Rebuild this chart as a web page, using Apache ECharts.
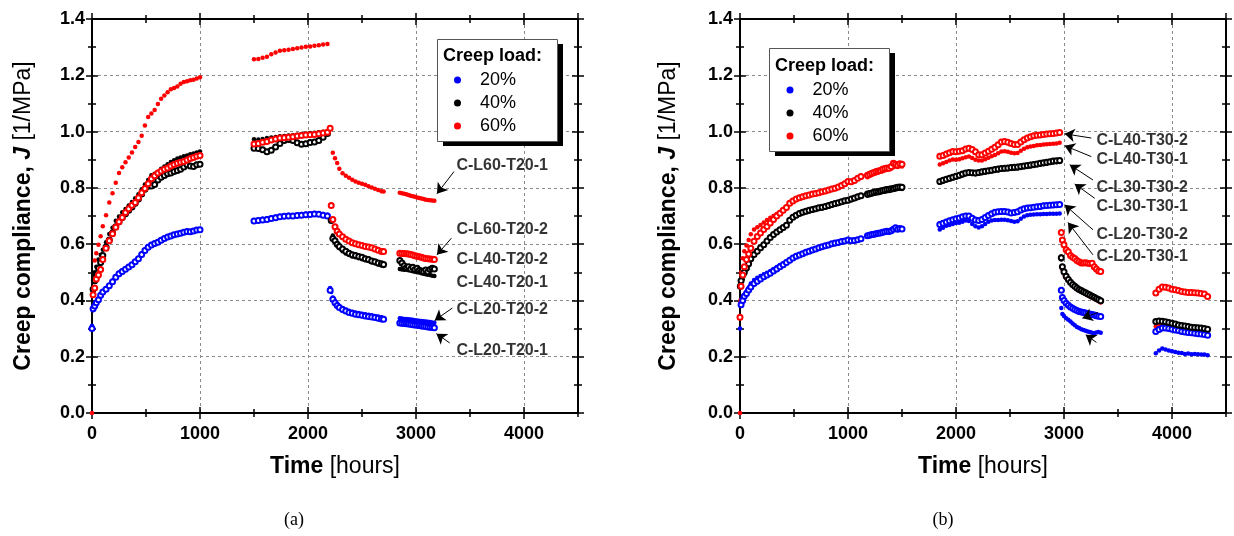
<!DOCTYPE html>
<html>
<head>
<meta charset="utf-8">
<script src="https://cdn.jsdelivr.net/npm/echarts@6/dist/echarts.min.js"></script>
<style>html,body{margin:0;padding:0;background:#fff;}#c{width:1234px;height:536px;}</style>
</head>
<body>
<div id="c"></div>
<script>
// ---------------- DATA: chart (a) ----------------
const A_TIME = [
  0,10,25,40,60,80,100,130,160,190,220,250,280,310,340,370,400,430,460,490,520,550,580,610,640,670,700,730,760,790,820,850,880,910,940,970,1000,
  1500,1540,1580,1620,1660,1700,1740,1780,1820,1860,1900,1940,1980,2020,2060,2100,2140,2180,
  2205,2215,2230,2250,2270,2290,2320,2350,2380,2410,2440,2470,2500,2530,2560,2590,2620,2650,2680,2700,
  2850,2870,2890,2910,2930,2950,2970,2990,3010,3030,3050,3070,3090,3110,3130,3150,3170
];
const A_L20_1 = [
  0.31,0.365,0.375,0.39,0.405,0.42,0.432,0.443,0.455,0.47,0.485,0.498,0.506,0.513,0.521,0.529,0.539,0.551,0.566,0.58,0.592,0.600,0.604,0.609,0.617,0.622,0.627,0.632,0.635,0.638,0.641,0.644,0.648,0.646,0.649,0.652,0.654,
  0.686,0.687,0.690,0.692,0.695,0.698,0.700,0.703,0.704,0.703,0.705,0.707,0.708,0.709,0.711,0.709,0.707,0.704,
  0.444,0.43,0.410,0.398,0.388,0.380,0.373,0.368,0.363,0.360,0.357,0.355,0.353,0.351,0.349,0.347,0.345,0.343,0.340,0.338,
  0.337,0.336,0.334,0.334,0.333,0.332,0.331,0.330,0.329,0.328,0.327,0.326,0.325,0.324,0.323,0.322,0.321
];
const A_L20_2 = [
  0.30,0.37,0.38,0.392,0.402,0.418,0.43,0.44,0.452,0.466,0.482,0.495,0.503,0.511,0.519,0.527,0.537,0.548,0.563,0.577,0.589,0.597,0.602,0.607,0.614,0.62,0.625,0.629,0.633,0.636,0.639,0.642,0.645,0.644,0.647,0.650,0.651,
  0.682,0.684,0.686,0.688,0.691,0.694,0.697,0.699,0.700,0.700,0.702,0.703,0.704,0.705,0.707,0.706,0.703,0.700,
  0.436,null,0.404,0.392,0.382,0.375,0.368,0.362,0.357,0.354,0.351,0.349,0.347,0.345,0.343,0.341,0.339,0.337,0.334,0.333,
  0.320,0.319,0.318,0.317,0.316,0.315,0.314,0.313,0.312,0.311,0.309,0.308,0.307,0.306,0.305,0.304,0.303
];
const A_L40_1 = [
  null,0.47,0.50,0.52,0.545,0.562,0.58,0.607,0.636,0.658,0.683,0.698,0.713,0.725,0.737,0.75,0.763,0.777,0.795,0.812,0.828,0.845,0.850,0.856,0.868,0.876,0.884,0.892,0.898,0.904,0.908,0.912,0.915,0.919,0.922,0.926,0.929,
  0.973,0.972,0.974,0.977,0.979,0.981,0.983,0.984,0.986,0.987,0.989,0.991,0.993,0.995,0.996,0.998,0.999,1.0,
  null,null,0.631,0.607,0.595,0.585,0.575,0.567,0.561,0.556,0.553,0.550,0.546,0.543,0.540,0.536,0.532,0.528,0.524,0.522,
  0.512,0.510,0.509,0.509,0.507,0.506,0.504,0.502,0.500,0.499,0.497,0.495,0.493,0.491,0.490,0.488,0.487
];
const A_L40_2 = [
  null,0.44,0.47,0.49,0.515,0.535,0.56,0.59,0.615,0.64,0.662,0.68,0.695,0.708,0.72,0.732,0.745,0.76,0.778,0.795,0.806,0.807,0.812,0.828,0.838,0.844,0.85,0.853,0.858,0.862,0.866,0.874,0.882,0.878,0.876,0.882,0.884,
  0.941,0.940,0.935,0.928,0.934,0.945,0.958,0.968,0.972,0.968,0.960,0.955,0.957,0.961,0.963,0.968,0.980,0.993,
  null,0.684,0.620,0.612,0.600,0.592,0.583,0.575,0.568,0.562,0.560,0.556,0.553,0.548,0.545,0.540,0.537,0.533,0.530,0.528,
  0.542,0.533,0.523,0.516,0.520,0.512,0.518,0.510,0.514,0.507,0.505,0.503,0.508,0.502,0.510,0.514,0.512
];
const A_L60_1 = [
  0.0,null,0.542,0.568,0.598,0.628,0.664,0.703,0.748,0.781,0.818,0.853,0.873,0.891,0.908,0.926,0.945,0.963,0.985,1.022,1.052,1.064,1.077,1.098,1.117,1.128,1.140,1.150,1.155,1.160,1.170,1.176,1.179,1.182,1.184,1.189,1.193,
  1.257,1.258,1.262,1.266,1.275,1.281,1.287,1.289,1.291,1.293,1.296,1.299,1.301,1.302,1.305,1.307,1.309,1.311,
  null,null,0.925,0.905,0.888,0.868,0.852,0.843,0.836,0.829,0.823,0.818,0.815,0.811,0.806,0.801,0.797,0.792,0.788,0.787,
  0.783,0.781,0.779,0.777,0.775,0.772,0.770,0.768,0.766,0.764,0.762,0.760,0.758,0.757,0.756,0.755,0.754
];
const A_L60_2 = [
  null,0.42,0.444,0.476,0.49,0.51,0.545,0.585,0.612,0.637,0.66,0.68,0.695,0.712,0.726,0.738,0.748,0.765,0.783,0.798,0.815,0.832,0.843,0.853,0.86,0.866,0.871,0.878,0.883,0.887,0.891,0.894,0.899,0.904,0.908,0.912,0.915,
  0.956,0.958,0.962,0.965,0.970,0.974,0.977,0.978,0.980,0.982,0.984,0.986,0.988,0.989,0.990,0.992,0.995,0.998,
  1.012,0.737,0.688,0.662,0.646,0.636,0.626,0.617,0.611,0.605,0.601,0.598,0.595,0.592,0.590,0.587,0.583,0.578,0.574,0.574,
  0.568,0.567,0.567,0.566,0.565,0.563,0.561,0.559,0.557,0.555,0.553,0.551,0.549,0.548,0.547,0.546,0.545
];
const A_NOTE_TEXT = ['C-L60-T20-1','C-L60-T20-2','C-L40-T20-2','C-L40-T20-1','C-L20-T20-2','C-L20-T20-1'];
const A_NOTE_AT = [[3374,0.879],[3374,0.651],[3374,0.544],[3374,0.465],[3374,0.369],[3374,0.222]];
const A_ARROWS = [
  [[3352,0.858],[3194,0.779]],
  [[3327,0.621],[3194,0.562]],
  [[3337,0.373],[3173,0.329]],
  [[3312,0.249],[3189,0.282]]
];

// ---------------- DATA: chart (b) ----------------
const B_TIME = [
  0,3,10,25,40,60,80,100,130,160,190,220,250,280,310,340,370,400,430,460,490,520,550,580,610,640,670,700,730,760,790,820,850,880,910,940,970,1000,1030,1060,1090,1120,
  1180,1200,1220,1240,1260,1280,1300,1320,1340,1360,1380,1400,1420,1440,1460,1480,1500,
  1850,1880,1910,1940,1970,2000,2030,2060,2090,2120,2150,2180,2210,2240,2270,2300,2330,2360,2390,2420,2450,2480,2510,2540,2570,2600,2630,2660,2690,2720,2750,2780,2810,2840,2870,2900,2930,2960,
  2975,2985,3000,3020,3040,3060,3080,3100,3120,3140,3160,3180,3200,3220,3240,3260,3280,3300,3320,3340,
  3850,3880,3910,3940,3970,4000,4030,4060,4090,4120,4150,4180,4210,4240,4270,4300,4330
];
const B_L20_1 = [
  0.30,0.39,0.40,0.41,0.42,0.432,0.445,0.46,0.473,0.481,0.487,0.493,0.498,0.505,0.512,0.519,0.526,0.532,0.539,0.546,0.553,0.558,0.562,0.566,0.570,0.574,0.578,0.582,0.586,0.589,0.592,0.595,0.598,0.600,0.603,0.606,0.609,0.613,0.609,0.611,0.614,0.618,
  0.627,0.629,0.631,0.632,0.634,0.636,0.637,0.639,0.641,0.643,0.642,0.645,0.650,0.655,0.650,0.653,0.651,
  0.652,0.658,0.665,0.668,0.672,0.675,0.676,0.680,0.684,0.682,0.672,0.664,0.659,0.664,0.672,0.680,0.684,0.686,0.686,0.687,0.687,0.685,0.682,0.680,0.681,0.690,0.698,0.703,0.704,0.705,0.706,0.706,0.707,0.707,0.708,0.708,0.708,0.709,
  0.373,0.352,0.345,0.337,0.331,0.325,0.318,0.312,0.306,0.302,0.298,0.295,0.292,0.290,0.288,0.285,0.283,0.286,0.288,0.285,
  0.212,0.222,0.229,0.226,0.222,0.219,0.217,0.214,0.213,0.210,0.211,0.209,0.210,0.209,0.208,0.208,0.205
];
const B_L20_2 = [
  null,null,0.385,0.40,0.415,0.425,0.437,0.448,0.46,0.468,0.476,0.484,0.49,0.497,0.505,0.512,0.52,0.527,0.535,0.543,0.551,0.557,0.561,0.566,0.571,0.575,0.579,0.583,0.587,0.591,0.594,0.597,0.601,0.604,0.606,0.609,0.611,0.615,0.612,0.613,0.616,0.619,
  0.630,0.632,0.634,0.635,0.637,0.639,0.640,0.642,0.644,0.646,0.645,0.648,0.653,0.658,0.653,0.656,0.654,
  0.670,0.674,0.679,0.683,0.687,0.690,0.693,0.697,0.700,0.700,0.692,0.686,0.684,0.688,0.695,0.702,0.708,0.713,0.715,0.716,0.716,0.714,0.711,0.712,0.715,0.721,0.726,0.728,0.729,0.731,0.733,0.734,0.736,0.737,0.738,0.739,0.740,0.741,
  0.436,0.410,0.400,0.390,0.383,0.377,0.372,0.368,0.364,0.361,0.359,0.357,0.355,0.353,0.352,0.350,0.348,0.346,0.344,0.343,
  0.290,0.297,0.302,0.302,0.300,0.298,0.295,0.293,0.290,0.288,0.286,0.285,0.283,0.282,0.281,0.279,0.276
];
const B_L30_1 = [
  null,null,0.45,0.475,0.49,0.51,0.53,0.55,0.565,0.577,0.588,0.599,0.612,0.626,0.634,0.642,0.650,0.657,0.665,0.683,0.693,0.700,0.706,0.710,0.713,0.716,0.719,0.722,0.725,0.727,0.730,0.733,0.737,0.740,0.743,0.747,0.750,0.752,0.756,0.760,0.764,0.768,
  0.772,0.774,0.776,0.778,0.780,0.781,0.783,0.785,0.786,0.788,0.789,0.791,0.792,0.794,0.796,0.797,0.796,
  0.818,0.822,0.826,0.829,0.833,0.836,0.840,0.844,0.848,0.850,0.849,0.848,0.850,0.852,0.854,0.856,0.858,0.860,0.862,0.864,0.865,0.866,0.867,0.868,0.869,0.871,0.873,0.874,0.876,0.878,0.880,0.882,0.884,0.886,0.888,0.890,0.891,0.892,
  0.545,0.515,0.498,0.482,0.471,0.462,0.454,0.447,0.441,0.436,0.432,0.428,0.424,0.420,0.416,0.412,0.408,0.404,0.400,0.396,
  0.321,0.323,0.322,0.320,0.318,0.315,0.312,0.309,0.307,0.305,0.303,0.301,0.300,0.299,0.298,0.296,0.294
];
const B_L30_2 = [
  null,0.45,0.47,0.49,0.50,0.515,0.53,0.548,0.563,0.575,0.587,0.598,0.611,0.624,0.634,0.643,0.651,0.659,0.667,0.685,0.696,0.703,0.709,0.713,0.717,0.72,0.723,0.726,0.729,0.731,0.734,0.737,0.741,0.744,0.747,0.751,0.754,0.756,0.760,0.764,0.768,0.772,
  0.778,0.780,0.782,0.784,0.786,0.787,0.789,0.791,0.792,0.794,0.795,0.797,0.798,0.800,0.802,0.803,0.802,
  0.823,0.827,0.831,0.834,0.838,0.841,0.845,0.849,0.853,0.855,0.854,0.853,0.855,0.857,0.859,0.861,0.863,0.865,0.867,0.869,0.870,0.871,0.872,0.873,0.874,0.876,0.878,0.879,0.881,0.883,0.885,0.887,0.889,0.891,0.893,0.895,0.896,0.897,
  0.552,0.520,0.502,0.486,0.474,0.465,0.457,0.450,0.444,0.439,0.435,0.431,0.427,0.423,0.419,0.415,0.411,0.407,0.403,0.399,
  0.325,0.327,0.326,0.324,0.322,0.319,0.316,0.313,0.311,0.309,0.307,0.305,0.304,0.303,0.302,0.300,0.298
];
const B_L40_1 = [
  0.0,0.40,0.50,0.55,0.575,0.595,0.615,0.635,0.652,0.66,0.668,0.677,0.686,0.694,0.700,0.707,0.714,0.722,0.732,0.746,0.755,0.762,0.767,0.771,0.774,0.776,0.778,0.780,0.782,0.785,0.788,0.791,0.794,0.797,0.800,0.806,0.814,0.821,0.818,0.824,0.832,0.836,
  0.838,0.842,0.846,0.849,0.852,0.855,0.857,0.859,0.862,0.864,0.866,0.868,0.873,0.876,0.874,0.878,0.876,
  0.883,0.887,0.892,0.897,0.901,0.900,0.902,0.905,0.909,0.911,0.906,0.900,0.897,0.897,0.902,0.907,0.912,0.917,0.923,0.929,0.930,0.928,0.925,0.923,0.924,0.932,0.939,0.944,0.947,0.949,0.951,0.952,0.954,0.955,0.956,0.957,0.958,0.960,
  0.556,0.510,0.495,0.480,0.470,0.460,0.452,0.446,0.440,0.436,0.431,0.426,0.422,0.418,0.414,0.410,0.406,0.402,0.397,0.393,
  0.308,0.316,0.322,0.320,0.318,0.314,0.311,0.308,0.305,0.303,0.300,0.298,0.297,0.295,0.294,0.292,0.290
];
const B_L40_2 = [
  0.34,null,0.45,0.49,0.52,0.545,0.565,0.585,0.61,0.627,0.64,0.652,0.663,0.675,0.688,0.70,0.71,0.72,0.73,0.745,0.753,0.76,0.765,0.768,0.772,0.775,0.778,0.780,0.783,0.786,0.789,0.792,0.796,0.799,0.803,0.808,0.815,0.823,0.822,0.826,0.834,0.840,
  0.845,0.848,0.852,0.855,0.858,0.860,0.862,0.866,0.869,0.871,0.870,0.876,0.887,0.884,0.880,0.886,0.884,
  0.912,0.915,0.920,0.925,0.929,0.928,0.930,0.932,0.938,0.941,0.936,0.928,0.918,0.918,0.924,0.930,0.937,0.944,0.953,0.963,0.965,0.962,0.958,0.954,0.954,0.963,0.971,0.977,0.982,0.985,0.987,0.988,0.990,0.991,0.992,0.993,0.995,0.997,
  0.641,0.615,0.598,0.580,0.573,0.560,0.553,0.549,0.542,0.537,0.533,0.533,0.534,0.532,0.531,0.532,0.520,0.512,0.505,0.503,
  0.426,0.440,0.448,0.447,0.444,0.440,0.438,0.435,0.432,0.430,0.428,0.428,0.427,0.426,0.425,0.423,0.414
];
const B_NOTE_TEXT = ['C-L40-T30-2','C-L40-T30-1','C-L30-T30-2','C-L30-T30-1','C-L20-T30-2','C-L20-T30-1'];
const B_NOTE_AT = [[3300,0.968],[3300,0.900],[3300,0.801],[3300,0.734],[3300,0.634],[3300,0.556]];
const B_ARROWS = [
  [[3253,0.977],[3006,0.992]],
  [[3253,0.911],[3006,0.950]],
  [[3268,0.828],[3053,0.882]],
  [[3284,0.763],[3099,0.814]],
  [[3268,0.651],[3006,0.740]],
  [[3268,0.562],[3037,0.677]],
  [[3315,0.357],[3170,0.337]],
  [[3300,0.251],[3201,0.278]]
];

const LOAD_LABELS = ['20%','40%','60%'];
const X_TICKS = {min:0, max:4500, major:1000, minor:500};
const Y_TICKS = {min:0, max:1.4, major:0.2};

// ---------------- STYLE ----------------
const FONT = '"Liberation Sans", Arial, Helvetica, sans-serif';
const BLUE = '#0000ff', BLACK = '#000000', RED = '#ff0000';
const LOAD_COLORS = [BLUE, BLACK, RED];

const A_SERIES = [
  {name:'C-L20-T20-1', vals:A_L20_1, color:BLUE, open:false},
  {name:'C-L20-T20-2', vals:A_L20_2, color:BLUE, open:true},
  {name:'C-L40-T20-1', vals:A_L40_1, color:BLACK, open:false},
  {name:'C-L40-T20-2', vals:A_L40_2, color:BLACK, open:true},
  {name:'C-L60-T20-1', vals:A_L60_1, color:RED, open:false},
  {name:'C-L60-T20-2', vals:A_L60_2, color:RED, open:true}
];
const B_SERIES = [
  {name:'C-L20-T30-1', vals:B_L20_1, color:BLUE, open:false},
  {name:'C-L20-T30-2', vals:B_L20_2, color:BLUE, open:true},
  {name:'C-L30-T30-1', vals:B_L30_1, color:BLACK, open:false},
  {name:'C-L30-T30-2', vals:B_L30_2, color:BLACK, open:true},
  {name:'C-L40-T30-1', vals:B_L40_1, color:RED, open:false},
  {name:'C-L40-T30-2', vals:B_L40_2, color:RED, open:true}
];

const nameRich = {
  b:{fontFamily:FONT, fontSize:23, fontWeight:'bold', color:'#000'},
  i:{fontFamily:FONT, fontSize:23, fontWeight:'bold', fontStyle:'italic', color:'#000'},
  n:{fontFamily:FONT, fontSize:23, fontWeight:'normal', color:'#000'}
};
function tick(inside, len){ return {show:true, inside:inside, length:len, lineStyle:{color:'#000', width:1.5}}; }

function xAxesFor(gi){
  const base = {gridIndex:gi, type:'value', min:X_TICKS.min, max:X_TICKS.max,
    axisLine:{show:false, onZero:false}, axisLabel:{show:false}, splitLine:{show:false}};
  const list = [];
  list.push(Object.assign({}, base, {
    interval:X_TICKS.major, position:'bottom',
    axisLine:{show:true, onZero:false, lineStyle:{color:'#000', width:2}},
    axisTick:tick(false,6),
    axisLabel:{show:true, showMaxLabel:false, margin:12, fontFamily:FONT, fontSize:18, fontWeight:'bold', color:'#000',
      formatter:(v)=>String(v)},
    splitLine:{show:true, lineStyle:{color:'#8a8a8a', width:1, type:[3,3]}},
    name:'{b|Time} {n|[hours]}', nameLocation:'middle', nameGap:42,
    nameTextStyle:{fontFamily:FONT, fontSize:23, color:'#000', rich:nameRich}
  }));
  list.push(Object.assign({}, base, {interval:X_TICKS.major, position:'bottom', axisTick:tick(true,6)}));
  list.push(Object.assign({}, base, {interval:X_TICKS.minor, position:'bottom', axisTick:tick(false,4)}));
  list.push(Object.assign({}, base, {interval:X_TICKS.minor, position:'bottom', axisTick:tick(true,4)}));
  list.push(Object.assign({}, base, {interval:X_TICKS.major, position:'top',
    axisLine:{show:true, onZero:false, lineStyle:{color:'#000', width:2}}, axisTick:tick(false,6)}));
  list.push(Object.assign({}, base, {interval:X_TICKS.major, position:'top', axisTick:tick(true,6)}));
  list.push(Object.assign({}, base, {interval:X_TICKS.minor, position:'top', axisTick:tick(false,4)}));
  list.push(Object.assign({}, base, {interval:X_TICKS.minor, position:'top', axisTick:tick(true,4)}));
  return list;
}
function yAxesFor(gi, nameGap){
  const base = {gridIndex:gi, type:'value', min:Y_TICKS.min, max:Y_TICKS.max, interval:Y_TICKS.major,
    axisLine:{show:false, onZero:false}, axisLabel:{show:false}, splitLine:{show:false}};
  const minor = ()=>({show:true, splitNumber:2, length:4, lineStyle:{color:'#000', width:1.5}});
  const list = [];
  list.push(Object.assign({}, base, {
    position:'left',
    axisLine:{show:true, onZero:false, lineStyle:{color:'#000', width:2}},
    axisTick:tick(false,6), minorTick:minor(),
    axisLabel:{show:true, margin:7, fontFamily:FONT, fontSize:18, fontWeight:'bold', color:'#000',
      formatter:(v)=>v.toFixed(1)},
    splitLine:{show:true, lineStyle:{color:'#8a8a8a', width:1, type:[3,3]}},
    name:'{b|Creep compliance, }{i|J}{n| [1/MPa]}', nameLocation:'middle', nameGap:nameGap,
    nameTextStyle:{fontFamily:FONT, fontSize:23, color:'#000', rich:nameRich}
  }));
  list.push(Object.assign({}, base, {position:'left', axisTick:tick(true,6), minorTick:minor()}));
  list.push(Object.assign({}, base, {position:'right',
    axisLine:{show:true, onZero:false, lineStyle:{color:'#000', width:2}},
    axisTick:tick(false,6), minorTick:minor()}));
  list.push(Object.assign({}, base, {position:'right', axisTick:tick(true,6), minorTick:minor()}));
  return list;
}

function pts(times, vals){
  const out = [];
  for (let i = 0; i < times.length; i++) if (vals[i] !== null && vals[i] !== undefined) out.push([times[i], vals[i]]);
  return out;
}
function specimenSeries(times, specs, xi, yi){
  return specs.map(s => ({
    name:s.name, type:'scatter', xAxisIndex:xi, yAxisIndex:yi,
    symbol: s.open ? 'emptyCircle' : 'circle',
    symbolSize: s.open ? 5 : 4.5,
    itemStyle: s.open ? {color:s.color, borderColor:s.color, borderWidth:1, opacity:1}
                      : {color:s.color, borderWidth:0, opacity:1},
    data: pts(times, s.vals), silent:true, z: s.open ? 3 : 2
  }));
}
function noteSeries(texts, at, arrows, xi, yi){
  return {
    name:'notes', type:'scatter', xAxisIndex:xi, yAxisIndex:yi, symbolSize:0, silent:true, z:6,
    data: texts.map((t,i)=>({name:t, value:at[i]})),
    label:{show:true, position:'right', distance:0, formatter:'{b}', fontFamily:FONT, fontSize:16, fontWeight:'bold', color:'#000'},
    markLine:{silent:true, symbol:['none','arrow'], symbolSize:10, animation:false,
      lineStyle:{color:'#000', width:1, type:'solid', opacity:1},
      itemStyle:{color:'#000'},
      label:{show:false},
      emphasis:{disabled:true},
      data: arrows.map(a=>[{coord:a[0]},{coord:a[1]}])}
  };
}

const legendSeries = LOAD_LABELS.map((n,i)=>({name:n, type:'scatter', xAxisIndex:0, yAxisIndex:0, data:[], itemStyle:{color:LOAD_COLORS[i], opacity:1}}));

const chart = echarts.init(document.getElementById('c'), null, {renderer:'canvas'});
const legendBase = {data:LOAD_LABELS, orient:'vertical', icon:'circle', itemWidth:7, itemHeight:7, itemGap:3,
  selectedMode:false, padding:0, textStyle:{fontFamily:FONT, fontSize:18, color:'#000', lineHeight:20, padding:[0,0,0,14]}};

chart.setOption({
  animation:false,
  backgroundColor:'#fff',
  grid:[
    {left:92, top:19, width:486, height:394, containLabel:false, outerBoundsMode:'none'},
    {left:740, top:19, width:486, height:394, containLabel:false, outerBoundsMode:'none'}
  ],
  xAxis: xAxesFor(0).concat(xAxesFor(1)),
  yAxis: yAxesFor(0, 57).concat(yAxesFor(1, 60)),
  legend:[
    Object.assign({}, legendBase, {left:454, top:70}),
    Object.assign({}, legendBase, {left:786.5, top:80})
  ],
  series: []
    .concat(specimenSeries(A_TIME, A_SERIES, 0, 0))
    .concat(specimenSeries(B_TIME, B_SERIES, 8, 4))
    .concat([noteSeries(A_NOTE_TEXT, A_NOTE_AT, A_ARROWS, 0, 0), noteSeries(B_NOTE_TEXT, B_NOTE_AT, B_ARROWS, 8, 4)])
    .concat(legendSeries),
  graphic:{elements:[
    {type:'rect', z:3, shape:{x:443, y:44, width:120, height:102}, style:{fill:'#000'}},
    {type:'rect', z:3, shape:{x:437.5, y:39.5, width:120, height:102}, style:{fill:'#fff', stroke:'#555', lineWidth:1}},
    {type:'text', z:5, x:443, y:56, style:{text:'Creep load:', font:'bold 18px ' + FONT, fill:'#000', verticalAlign:'middle'}},
    {type:'rect', z:3, shape:{x:775, y:53, width:120, height:103}, style:{fill:'#000'}},
    {type:'rect', z:3, shape:{x:769.5, y:48.5, width:120, height:103}, style:{fill:'#fff', stroke:'#555', lineWidth:1}},
    {type:'text', z:5, x:775, y:66, style:{text:'Creep load:', font:'bold 18px ' + FONT, fill:'#000', verticalAlign:'middle'}},
    {type:'text', z:5, x:294, y:520, style:{text:'(a)', font:'18px "Liberation Serif", "Times New Roman", serif', fill:'#000', align:'center', verticalAlign:'middle'}},
    {type:'text', z:5, x:943, y:520, style:{text:'(b)', font:'18px "Liberation Serif", "Times New Roman", serif', fill:'#000', align:'center', verticalAlign:'middle'}}
  ]}
});
</script>
</body>
</html>
